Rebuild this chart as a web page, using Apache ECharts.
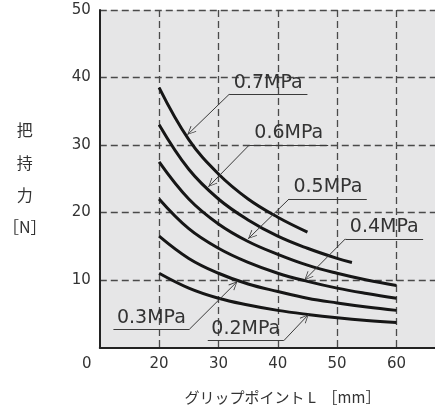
<!DOCTYPE html>
<html>
<head>
<meta charset="utf-8">
<script src="https://cdn.jsdelivr.net/npm/echarts@6/dist/echarts.min.js"></script>
<style>html,body{margin:0;padding:0;background:#fff}#c{width:435px;height:410px}</style>
</head>
<body>
<div id="c"></div>
<script>
// ---- data ----
const L07 = [20, 25, 30, 35, 40, 45];
const F07 = [38.5, 30.8, 25.7, 22.0, 19.3, 17.1];
const L06 = [20, 25, 30, 35, 40, 45, 50, 52.5];
const F06 = [33.0, 26.4, 22.0, 18.9, 16.5, 14.7, 13.2, 12.6];
const Lfull = [20, 25, 30, 35, 40, 45, 50, 55, 60];
const F05 = [27.5, 22.0, 18.3, 15.7, 13.8, 12.2, 11.0, 10.0, 9.2];
const F04 = [22.0, 17.6, 14.7, 12.6, 11.0, 9.8, 8.8, 8.0, 7.3];
const F03 = [16.5, 13.2, 11.0, 9.4, 8.3, 7.3, 6.6, 6.0, 5.5];
const F02 = [11.0, 8.8, 7.3, 6.3, 5.5, 4.9, 4.4, 4.0, 3.7];
const pressureLabels = ['0.7MPa', '0.6MPa', '0.5MPa', '0.4MPa', '0.3MPa', '0.2MPa'];
const xTickLabels = {10: '0', 20: '20', 30: '30', 40: '40', 50: '50', 60: '60'};
const yTickLabels = [0, 10, 20, 30, 40, 50];
// label annotations: underline [x1, x2, y], leader [from, to(tip)]
const underlines = [
  [31.8, 45.0, 37.5],
  [35.2, 48.5, 30.0],
  [41.9, 55.0, 22.0],
  [51.4, 64.5, 16.1],
  [12.3, 25.1, 2.7],
  [28.2, 41.0, 1.0]
];
const leaders = [
  [[31.8, 37.5], [24.75, 31.5]],
  [[35.2, 30.0], [28.3, 23.8]],
  [[41.9, 22.0], [35.0, 16.1]],
  [[51.4, 16.1], [44.5, 10.0]],
  [[25.1, 2.7], [33.2, 9.8]],
  [[41.0, 1.0], [45.2, 4.9]]
];

const curves = [
  [L07, F07], [L06, F06], [Lfull, F05], [Lfull, F04], [Lfull, F03], [Lfull, F02]
];

const arrowPath = 'path://M0,0 L5,10 L4.1,10.6 L0,1.8 L-4.1,10.6 L-5,10 Z M0,-10.6 L0.01,-10.6 L0,-10.59 Z';

const series = curves.map(function (c, i) {
  const data = c[0].map(function (x, j) { return [x, c[1][j]]; });
  const u = underlines[i];
  const ld = leaders[i];
  return {
    type: 'line',
    data: data,
    smooth: 0.4,
    showSymbol: false,
    symbol: 'none',
    lineStyle: { color: '#161616', width: 3 },
    z: 3,
    markLine: {
      silent: true,
      animation: false,
      symbol: ['none', 'none'],
      lineStyle: { color: '#3a3a3a', width: 1, type: 'solid' },
      emphasis: { disabled: true },
      data: [
        [
          { coord: [u[0], u[2]], symbol: 'none',
            label: { show: true, position: 'insideMiddleTop', formatter: pressureLabels[i],
              fontFamily: 'DejaVu Sans', fontSize: 19, color: '#333', distance: 2 } },
          { coord: [u[1], u[2]], symbol: 'none' }
        ],
        [
          { coord: ld[0], symbol: 'none', label: { show: false } },
          { coord: ld[1], symbol: arrowPath, symbolSize: [8, 18] }
        ]
      ]
    }
  };
});

const chart = echarts.init(document.getElementById('c'), null, { renderer: 'canvas' });
chart.setOption({
  animation: false,
  backgroundColor: '#ffffff',
  grid: {
    left: 98, top: 10, right: 0, bottom: 60,
    show: true, backgroundColor: '#e6e6e7', borderWidth: 0
  },
  xAxis: {
    type: 'value', min: 10, max: 66.5, interval: 10,
    name: 'グリップポイント L  ［mm］',
    nameLocation: 'middle', nameGap: 50,
    nameTextStyle: { fontFamily: 'Noto Sans CJK JP', fontSize: 15, color: '#333',
      align: 'center', verticalAlign: 'middle', padding: [0, 0, 0, 30] },
    axisLine: { show: true, onZero: false, lineStyle: { color: '#222', width: 2 } },
    axisTick: { show: false },
    axisLabel: {
      margin: 9, fontFamily: 'DejaVu Sans', fontSize: 15, color: '#333', lineHeight: 16,
      showMaxLabel: false,
      formatter: function (v) {
        if (v === 10) return '{z|' + xTickLabels[10] + '}';
        return xTickLabels[v] !== undefined ? xTickLabels[v] : '';
      },
      rich: { z: { fontFamily: 'DejaVu Sans', fontSize: 15, color: '#333', padding: [0, 26, 0, 0] } }
    },
    splitLine: { show: true, showMinLine: false, showMaxLine: false,
      lineStyle: { color: '#4a4a4a', width: 1.3, type: [7, 4] } }
  },
  yAxis: {
    type: 'value', min: 0, max: 50, interval: 10,
    name: '把\n持\n力\n［N］',
    nameLocation: 'middle', nameRotate: 0, nameGap: 75,
    nameTextStyle: { fontFamily: 'Noto Sans CJK JP', fontSize: 16, color: '#333',
      align: 'center', verticalAlign: 'middle', lineHeight: 32.3 },
    axisLine: { show: true, onZero: false, lineStyle: { color: '#222', width: 2 } },
    axisTick: { show: false },
    axisLabel: { margin: 9, fontFamily: 'DejaVu Sans', fontSize: 15, color: '#333',
      showMinLabel: false,
      formatter: function (v) { return yTickLabels.indexOf(v) >= 0 ? String(v) : ''; } },
    splitLine: { show: true, showMinLine: false,
      lineStyle: { color: '#4a4a4a', width: 1.3, type: [7, 4] } }
  },
  series: series
});
</script>
</body>
</html>
